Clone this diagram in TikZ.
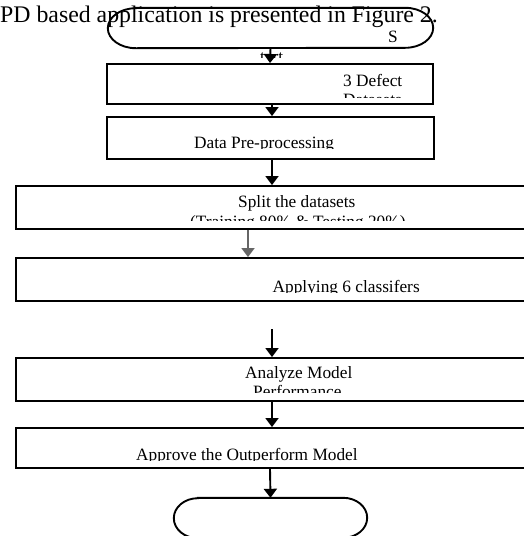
\documentclass[tikz,border=0pt]{standalone}
\usepackage{fontspec}
\setmainfont{Liberation Serif}
\usetikzlibrary{arrows.meta}
\tikzset{
  stepbox/.style={draw, line width=1.9pt, minimum height=42pt, inner sep=0pt},
  term/.style={minimum height=40pt, inner sep=0pt},
  termline/.style={line width=1.9pt},
  arr/.style={line width=1.9pt, -{Triangle[width=13pt,length=9pt]}},
  lbl/.style={anchor=base west, inner sep=0pt, font=\fontsize{17.3}{20}\selectfont},
}
\begin{document}
\begin{tikzpicture}[x=1pt,y=-1pt]
\clip (0,0) rectangle (524,536);
% line of the page above the figure
\node[anchor=base west, inner sep=0pt, font=\fontsize{23.8}{26}\selectfont] (head) at (0,22) {PD based application is presented in Figure 2.};
% terminators and steps
\node[term, minimum width=325pt] (start) at (270.5,28) {};
\node[term, minimum width=193pt] (stop) at (270.5,518) {};
\draw[termline] ([xshift=28pt]start.north west) -- ([xshift=-28pt]start.north east)
  arc[start angle=90, end angle=-90, x radius=28pt, y radius=20pt]
  -- ([xshift=28pt]start.south west)
  arc[start angle=270, end angle=90, x radius=28pt, y radius=20pt] -- cycle;
\draw[termline] ([xshift=24pt]stop.north west) -- ([xshift=-24pt]stop.north east)
  arc[start angle=90, end angle=-90, x radius=24pt, y radius=20pt]
  -- ([xshift=24pt]stop.south west)
  arc[start angle=270, end angle=90, x radius=24pt, y radius=20pt] -- cycle;
\node[stepbox, minimum width=326pt, minimum height=40pt] (defect) at (270,84) {};
\node[stepbox, minimum width=327pt] (prep) at (270.5,138) {};
\node[stepbox, minimum width=524pt, minimum height=43pt] (split) at (278,207.5) {};
\node[stepbox, minimum width=524pt, minimum height=43pt] (apply) at (278,279.5) {};
\node[stepbox, minimum width=524pt, minimum height=43pt] (analyze) at (278,379.5) {};
\node[stepbox, minimum width=524pt, minimum height=40pt] (approve) at (278,448) {};
% texts, cut off by their frames
\node[lbl] (s) at (388,42) {S};
\begin{scope} \clip (250,48) rectangle (300,57); \node[lbl] (tart) at (260,62) {tart}; \end{scope}
\node[lbl] (defectA) at (343,86) {3 Defect};
\begin{scope} \clip (300,88) rectangle (420,97); \node[lbl] (defectB) at (343,105) {Datasets}; \end{scope}
\begin{scope} \clip (180,120) rectangle (350,148.5); \node[lbl] (prepA) at (194,148) {Data Pre-processing}; \end{scope}
\node[lbl] (splitA) at (238,207) {Split the datasets};
\begin{scope} \clip (180,210) rectangle (420,220); \node[lbl] (splitB) at (190,227) {(Training 80\% \& Testing 20\%)}; \end{scope}
\begin{scope} \clip (260,266) rectangle (430,292); \node[lbl] (applyA) at (272.5,292) {Applying 6 classifers}; \end{scope}
\node[lbl] (analyzeA) at (245,378) {Analyze Model};
\begin{scope} \clip (240,380) rectangle (360,392); \node[lbl] (analyzeB) at (253,397) {Performance}; \end{scope}
\begin{scope} \clip (120,436) rectangle (370,460); \node[lbl] (approveA) at (136,460) {Approve the Outperform Model}; \end{scope}
% arrows
\coordinate (gap) at (272,329);
\draw[arr] (start.south) -- (defect.north);
\draw[arr] ([xshift=2pt]defect.south) -- ([xshift=1.5pt]prep.north);
\draw[arr] ([xshift=1.5pt]prep.south) -- ([xshift=-6pt]split.north);
\draw[arr, black!60] ([xshift=-30pt]split.south) -- ([xshift=-30pt]apply.north);
\draw[arr] (gap) -- ([xshift=-6pt]analyze.north);
\draw[arr] ([xshift=-6pt]analyze.south) -- ([xshift=-6pt]approve.north);
\draw[arr] ([xshift=-8pt]approve.south) -- (stop.north);
\end{tikzpicture}
\end{document}
